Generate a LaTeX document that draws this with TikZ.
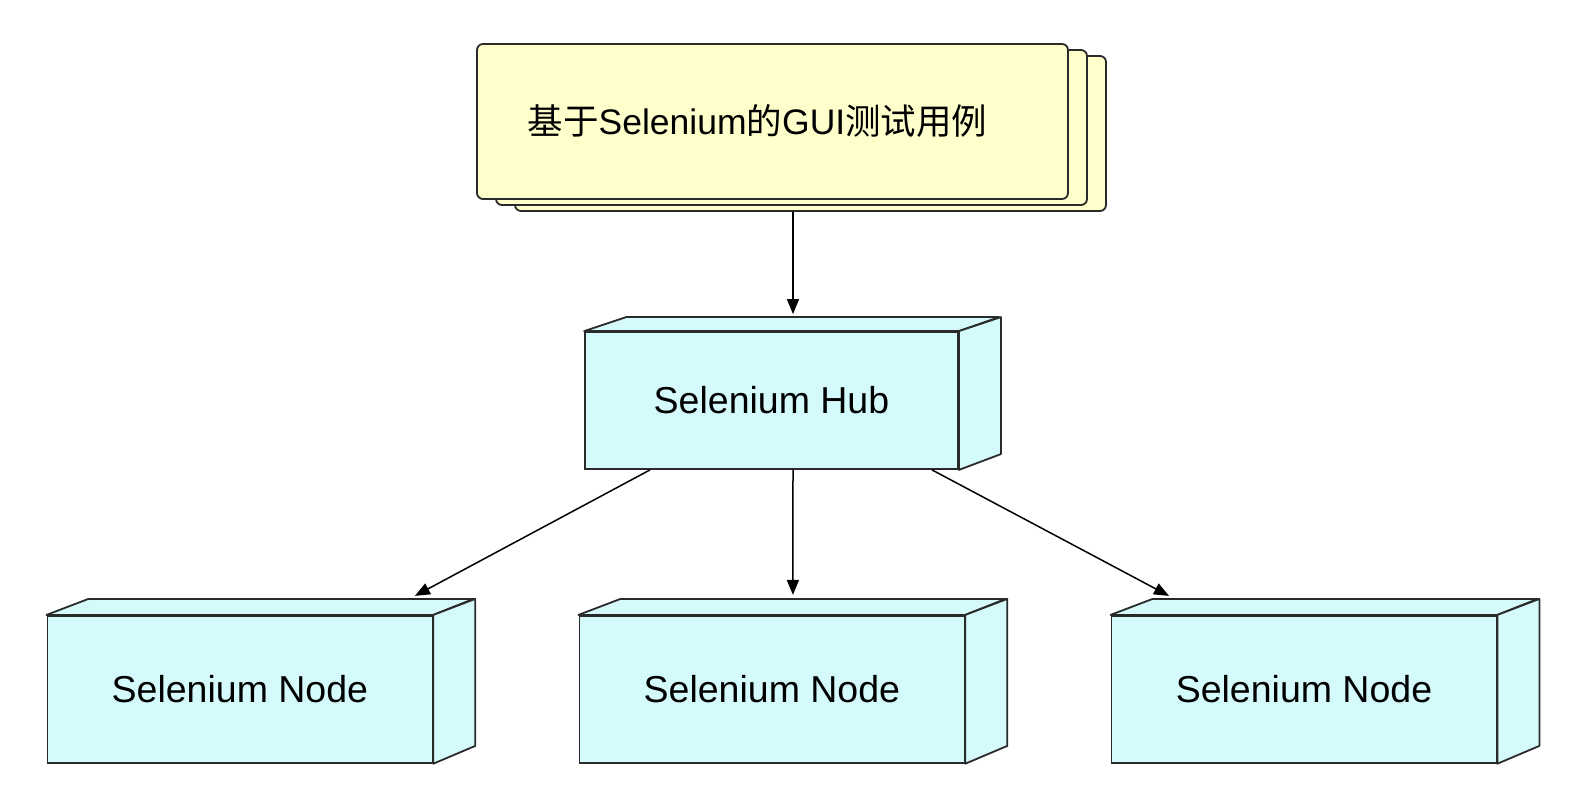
\documentclass[tikz,border=0pt]{standalone}
\usepackage{fontspec}
\setmainfont{Liberation Sans}
\newfontfamily\cjk{Noto Sans CJK SC}
\usetikzlibrary{arrows.meta,calc}
\definecolor{boxyellow}{HTML}{FFFFCC}
\definecolor{boxcyan}{HTML}{D4FAFC}
\definecolor{edgecol}{HTML}{2A2A2A}
\begin{document}
\begin{tikzpicture}[x=1pt,y=-1pt,
  stack/.style={draw=edgecol,line width=1.8pt,fill=boxyellow,rounded corners=6pt,
    minimum width=591pt,minimum height=155pt,inner sep=0pt},
  cubefront/.style 2 args={draw=edgecol,line width=1.8pt,fill=boxcyan,
    minimum width=#1,minimum height=#2,inner sep=0pt,
    font=\fontsize{37.5}{45}\selectfont},
  face/.style={draw=edgecol,line width=1.8pt,fill=boxcyan,line join=round},
  conn/.style={line width=1.5pt,black,-{Triangle[length=15pt,width=12pt]}}]

\useasboundingbox (0,0) rectangle (1580,802);

% test case stack
\node[stack] (l3) at (810.5,133.5) {};
\node[stack] (l2) at (791.5,127.5) {};
\node[stack,font=\fontsize{35.5}{42}\selectfont] (case) at (772.5,121.5)
  {\hspace*{-30pt}{\cjk 基于}Selenium{\cjk 的}GUI{\cjk 测试用例}};

% hub and nodes
\node[cubefront={373pt}{137pt}] (hub) at (771.5,400.5) {Selenium Hub};
\node[cubefront={385pt}{147pt}] (n1) at (239.9,689.3) {Selenium Node};
\node[cubefront={385pt}{147pt}] (n2) at (771.9,689.3) {Selenium Node};
\node[cubefront={385pt}{147pt}] (n3) at (1304,689.3) {Selenium Node};

\foreach \n/\w/\h/\dy in {hub/373/137/14, n1/385/147/16, n2/385/147/16, n3/385/147/16}{
  \draw[face] (\n.north west) -- ++(42,-\dy) -- ++(\w,0) -- (\n.north east) -- cycle;
  \draw[face] (\n.north east) -- ++(42,-\dy) -- ++(0,\h) -- (\n.south east) -- cycle;
}

% connectors
\coordinate (hubtop) at ($(hub.north)+(21.5,-17)$);
\draw[conn] (l3.south -| hubtop) -- (hubtop);
\draw[conn] ($(hub.south)+(-121.5,0)$) -- ($(n1.north)+(175,-19)$);
\draw[conn] ($(hub.south)+(21.5,0)$) -- ($(n2.north)+(21,-20)$);
\draw[conn] ($(hub.south)+(160.5,0)$) -- ($(n3.north)+(-135,-19)$);
\end{tikzpicture}
\end{document}
